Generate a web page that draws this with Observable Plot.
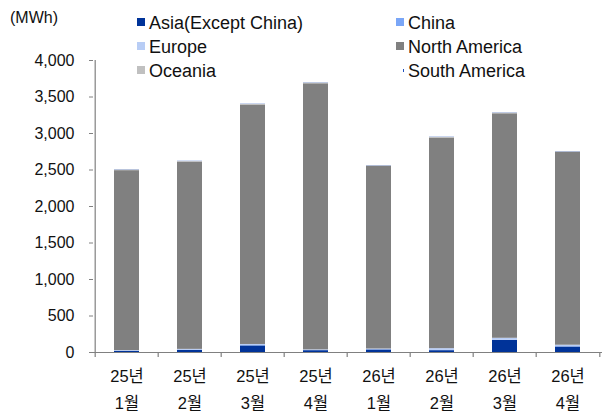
<!DOCTYPE html>
<html><head><meta charset="utf-8">
<script src="https://cdn.jsdelivr.net/npm/d3@7"></script>
<script src="https://cdn.jsdelivr.net/npm/@observablehq/plot@0.6"></script>
<style>
body{margin:0;background:#fff;}
#wrap{position:relative;width:606px;height:414px;font-family:"Liberation Sans","Noto Sans CJK KR",sans-serif;color:#111;}
#unit{position:absolute;left:10px;top:9px;font-size:16px;}
.lg{position:absolute;font-size:18px;line-height:20px;white-space:nowrap;}
.lg i{display:inline-block;width:8px;height:8px;margin-right:4px;vertical-align:middle;position:relative;top:-2px;}
</style></head>
<body><div id="wrap"><div id="unit">(MWh)</div></div>
<script>
const categories = ["25년 1월","25년 2월","25년 3월","25년 4월","26년 1월","26년 2월","26년 3월","26년 4월"];
const seriesNames = ["Asia(Except China)","China","Europe","North America","Oceania","South America"];
const colors = ["#003399","#7aa6f7","#b8cdf5","#808080","#c0c0c0","#1f4fbf"];
const asia = [15,30,90,25,35,25,165,75];
const china = [3,3,5,3,3,3,5,5];
const europe = [8,10,15,8,10,25,25,20];
const northAmerica = [2465,2565,3280,3645,2500,2885,3075,2640];
const oceania = [8,8,8,8,8,8,8,8];
const southAmerica = [3,3,3,3,3,3,3,3];
const yTicks = [0,500,1000,1500,2000,2500,3000,3500,4000];

const seriesValues = [asia, china, europe, northAmerica, oceania, southAmerica];
const table = [];
seriesNames.forEach((s, si) => categories.forEach((c, ci) => table.push({cat: c, series: s, value: seriesValues[si][ci]})));

const W = 606, H = 414, mL = 93, mR = 4, mT = 60, mB = 62;
const step = (W - mL - mR) / categories.length;
const tickLen = 5 * 4000 / (H - mT - mB);
const font = '"Liberation Sans","Noto Sans CJK KR",sans-serif';

const chart = Plot.plot({
  width: W, height: H, marginLeft: mL, marginRight: mR, marginTop: mT, marginBottom: mB,
  style: {fontFamily: font, fontSize: "16px", color: "#111", background: "transparent"},
  x: {domain: categories, paddingInner: 0.6, paddingOuter: 0.3, label: null},
  y: {domain: [0, 4000], label: null},
  color: {domain: seriesNames, range: colors},
  marks: [
    Plot.barY(table, Plot.stackY({x: "cat", y: "value", fill: "series", order: seriesNames})),
    Plot.ruleY([0], {stroke: "#808080", strokeWidth: 1.2}),
    Plot.ruleX([categories[0]], {x: d => d, dx: -step / 2, y1: -tickLen, y2: 4000, stroke: "#808080", strokeWidth: 1.2}),
    Plot.ruleX(categories.slice(1), {x: d => d, dx: -step / 2, y1: -tickLen, y2: 0, stroke: "#808080", strokeWidth: 1.2}),
    Plot.ruleX([categories[categories.length - 1]], {x: d => d, dx: step / 2, y1: -tickLen, y2: 0, stroke: "#808080", strokeWidth: 1.2}),
    Plot.axisY({ticks: yTicks, tickSize: 4, tickPadding: 15, tickFormat: d3.format(","), stroke: "#808080", fill: "#111", fontSize: 16}),
    Plot.axisX({tickSize: 0, tickPadding: 10, tickFormat: d => d.replace(" ", "\n"), lineHeight: 1.65, fill: "#111", fontSize: 16.5})
  ]
});
chart.style.position = "absolute";
chart.style.left = "0px";
chart.style.top = "0px";
const wrap = document.getElementById("wrap");
wrap.appendChild(chart);

const legPos = [[137, 13], [396, 13], [137, 37], [396, 37], [137, 61], [396, 61]];
seriesNames.forEach((s, i) => {
  const d = document.createElement("div");
  d.className = "lg";
  d.style.left = legPos[i][0] + "px";
  d.style.top = legPos[i][1] + "px";
  const sw = document.createElement("i");
  sw.style.background = colors[i];
  if (s === "South America") { sw.style.width = "1px"; sw.style.height = "3px"; sw.style.marginLeft = "7px"; sw.style.marginRight = "4px"; }
  d.appendChild(sw);
  d.appendChild(document.createTextNode(s));
  wrap.appendChild(d);
});
</script>
</body></html>
